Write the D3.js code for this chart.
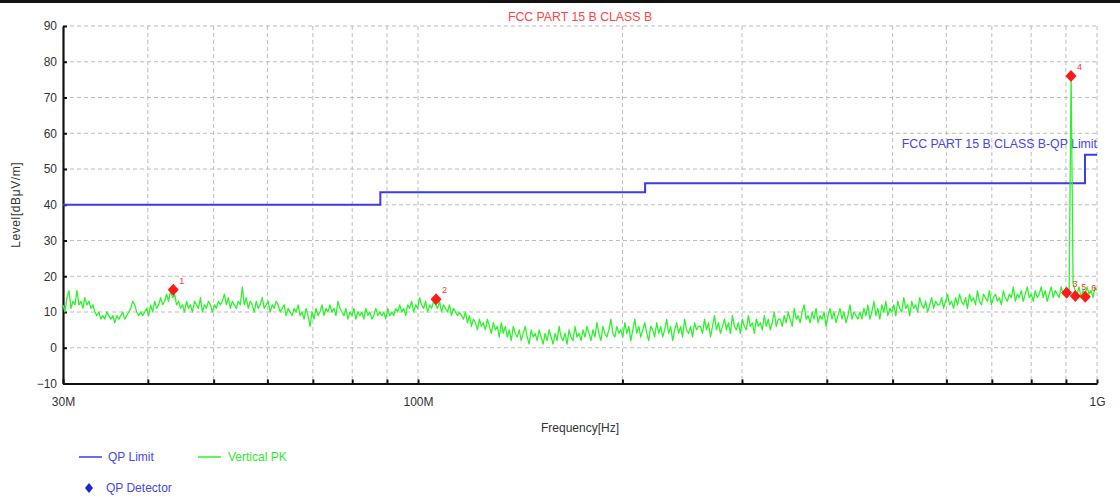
<!DOCTYPE html>
<html>
<head>
<meta charset="utf-8">
<script src="https://cdn.jsdelivr.net/npm/d3@7"></script>
<style>
  body { margin: 0; background: #fff; }
  svg text { font-family: "Liberation Sans", Arial, sans-serif; }
</style>
</head>
<body>
<div id="chart"></div>
<script>
// axis ticks / grid
const yTicks = [-10, 0, 10, 20, 30, 40, 50, 60, 70, 80, 90];
const gridFreqs = [40e6, 50e6, 60e6, 70e6, 80e6, 90e6, 100e6, 200e6, 300e6, 400e6, 500e6, 600e6, 700e6, 800e6, 900e6, 1e9];
const xLabels = {30e6: "30M", 100e6: "100M", 1e9: "1G"};

// QP limit steps (freq, level), drawn as step-after
const limitFreqs = [30e6, 88e6, 216e6, 960e6, 1e9];
const limitLevels = [40, 43.5, 46, 54, 54];

// Vertical PK trace, evenly spaced in log(freq) from 30M to 1G
const traceStart = 30e6, traceStop = 1e9;
const traceLevels = [
  12,10,14,16,11,13,12,16,12,13,11,14,12,13,11,12,10,9,10,8,9,8,10,9,8,9,7,9,8,9,10,8,9,10,11,13,12,10,9,10,
  9,10,11,9,12,10,13,11,12,14,12,13,15,13,16,14,15,12,13,11,12,10,13,11,12,10,13,12,11,14,10,12,11,13,12,10,12,11,13,12,
  13,15,12,14,11,13,12,11,13,12,17,12,14,11,13,12,10,13,11,12,14,11,12,13,10,12,11,13,12,10,11,12,9,11,10,9,11,10,12,9,
  10,8,11,9,6,10,8,11,9,10,12,9,11,10,12,10,11,9,13,11,10,9,11,8,10,9,11,8,10,9,10,8,11,9,10,8,9,11,9,10,
  9,10,8,11,9,10,9,11,10,12,10,11,9,12,11,13,10,12,11,14,12,11,13,10,12,11,13,12,11,13,10,12,11,10,12,9,11,10,9,10,
  9,8,10,7,9,6,8,7,5,8,6,7,5,8,6,4,7,5,6,3,7,4,6,3,5,2,6,4,3,5,2,4,6,3,1,5,3,4,2,5,
  3,1,4,2,5,3,1,4,2,6,3,2,4,1,5,3,2,6,3,4,2,5,3,6,4,2,5,3,7,4,2,6,4,3,5,8,4,3,6,4,
  5,3,7,4,6,2,5,8,4,6,3,5,7,4,2,6,5,3,7,4,6,3,5,8,4,6,2,5,7,4,6,3,8,5,4,6,3,7,5,6,
  6,4,8,5,7,3,6,9,5,7,4,6,8,5,7,4,9,6,5,7,4,8,6,5,9,6,7,4,8,6,7,5,9,6,8,5,7,10,6,8,
  8,6,9,7,10,8,6,11,8,9,7,10,12,8,9,7,10,8,11,7,9,8,10,6,9,11,8,10,7,9,11,8,10,7,9,12,8,10,9,8,
  10,8,11,9,12,8,10,13,9,11,8,12,10,13,9,11,10,12,9,13,11,10,14,11,12,9,13,11,12,10,14,12,11,13,10,12,14,11,13,12,
  12,14,11,13,15,12,13,11,14,12,15,13,12,14,11,15,13,14,12,16,13,12,15,14,13,16,12,14,15,13,14,12,16,14,13,15,14,17,13,15,
  14,16,13,15,17,14,15,13,16,14,15,17,14,16,13,15,17,14,16,15,14,17,15,16,14,16,76,18,16,15,17,14,16,15,17,15,16,14,17,16
];

// QP detector markers
const markerFreqs = [43.6e6, 106.3e6, 902e6, 915.6e6, 929e6, 961e6];
const markerLevels = [16.2, 13.6, 15.4, 76.0, 14.5, 14.3];
const markerLabels = ["1", "2", "3", "4", "5", "6"];

const width = 1120, height = 498;
const plotLeft = 63, plotRight = 1097, plotTop = 26, plotBottom = 383.5;
const blue = "#3b3bea", green = "#2ef22e", red = "#ff1a1a";

const svg = d3.select("#chart").append("svg")
    .attr("width", width)
    .attr("height", height);

// black frame line at the very top
svg.append("rect").attr("x", 0).attr("y", 0).attr("width", width).attr("height", 3).attr("fill", "#111");

const x = d3.scaleLog().domain([30e6, 1e9]).range([plotLeft, plotRight]);
const y = d3.scaleLinear().domain([-10, 90]).range([plotBottom, plotTop]);

// dashed grid
svg.append("g").selectAll("line")
    .data(yTicks.filter(v => v > -10))
    .enter().append("line")
    .attr("x1", plotLeft).attr("x2", plotRight)
    .attr("y1", d => y(d)).attr("y2", d => y(d))
    .attr("stroke", "#bdbdbd").attr("stroke-dasharray", "4,3");
svg.append("g").selectAll("line")
    .data(gridFreqs)
    .enter().append("line")
    .attr("x1", d => x(d)).attr("x2", d => x(d))
    .attr("y1", plotTop).attr("y2", plotBottom)
    .attr("stroke", "#bdbdbd").attr("stroke-dasharray", "4,3");

// axes
const yAxis = svg.append("g")
    .attr("transform", `translate(${plotLeft},0)`)
    .call(d3.axisLeft(y).tickValues(yTicks).tickSizeInner(-4).tickSizeOuter(0).tickPadding(6));
const xAxis = svg.append("g")
    .attr("transform", `translate(0,${plotBottom})`)
    .call(d3.axisBottom(x).tickValues([30e6].concat(gridFreqs)).tickSizeInner(-4).tickSizeOuter(0).tickPadding(14)
        .tickFormat(d => xLabels[d] || ""));
[yAxis, xAxis].forEach(a => {
    a.select(".domain").attr("stroke", "#111").attr("stroke-width", 2.2);
    a.selectAll(".tick line").attr("stroke", "#111").attr("stroke-width", 2);
    a.selectAll("text").style("font-size", "12px").attr("fill", "#333")
        .style("font-family", "'Liberation Sans', Arial, sans-serif");
});

// axis titles
svg.append("text")
    .attr("x", (plotLeft + plotRight) / 2).attr("y", 432)
    .attr("text-anchor", "middle")
    .style("font-size", "12px").attr("fill", "#333")
    .text("Frequency[Hz]");
svg.append("text")
    .attr("transform", `translate(20,${(plotTop + plotBottom) / 2}) rotate(-90)`)
    .attr("text-anchor", "middle")
    .style("font-size", "12px").attr("fill", "#333")
    .style("letter-spacing", "0.6px")
    .text("Level[dBμV/m]");

// title
svg.append("text")
    .attr("x", (plotLeft + plotRight) / 2).attr("y", 21)
    .attr("text-anchor", "middle")
    .style("font-size", "12.3px").attr("fill", "#ff4545")
    .text("FCC PART 15 B CLASS B");

// limit line
const limitData = limitFreqs.map((f, i) => ({f: f, v: limitLevels[i]}));
svg.append("path")
    .datum(limitData)
    .attr("fill", "none")
    .attr("stroke", blue)
    .attr("stroke-width", 2)
    .attr("d", d3.line().x(d => x(d.f)).y(d => y(d.v)).curve(d3.curveStepAfter));
svg.append("text")
    .attr("x", plotRight).attr("y", 148)
    .attr("text-anchor", "end")
    .style("font-size", "12.3px").attr("fill", "#4646ee")
    .text("FCC PART 15 B CLASS B-QP Limit");

// PK trace
const n = traceLevels.length;
const traceFreq = i => traceStart * Math.pow(traceStop / traceStart, i / (n - 1));
svg.append("path")
    .datum(traceLevels)
    .attr("fill", "none")
    .attr("stroke", green)
    .attr("stroke-width", 1.3)
    .attr("stroke-linejoin", "round")
    .attr("d", d3.line().x((d, i) => x(traceFreq(i))).y(d => y(d)));

// diamond markers
function diamond(cx, cy, w, h) {
    return `M${cx},${cy - h}L${cx + w},${cy}L${cx},${cy + h}L${cx - w},${cy}Z`;
}
const markers = markerFreqs.map((f, i) => ({f: f, v: markerLevels[i], label: markerLabels[i]}));
svg.append("g").selectAll("path")
    .data(markers)
    .enter().append("path")
    .attr("d", d => diamond(x(d.f), y(d.v), 5.5, 6))
    .attr("fill", red);
svg.append("g").selectAll("text")
    .data(markers)
    .enter().append("text")
    .attr("x", d => x(d.f) + 6)
    .attr("y", d => y(d.v) - 6)
    .style("font-size", "9px")
    .attr("fill", "#ff3030")
    .text(d => d.label);

// legend
const legend = svg.append("g").style("font-size", "12px");
legend.append("line").attr("x1", 79).attr("x2", 102).attr("y1", 457).attr("y2", 457).attr("stroke", blue).attr("stroke-width", 1.5);
legend.append("text").attr("x", 108).attr("y", 461).attr("fill", "#4646ee").text("QP Limit");
legend.append("line").attr("x1", 198).attr("x2", 221).attr("y1", 457).attr("y2", 457).attr("stroke", green).attr("stroke-width", 1.5);
legend.append("text").attr("x", 228).attr("y", 461).attr("fill", "#2ee82e").text("Vertical PK");
legend.append("path").attr("d", diamond(89, 488, 4, 5)).attr("fill", "#2020d8");
legend.append("text").attr("x", 106).attr("y", 492).attr("fill", "#4646ee").text("QP Detector");
</script>
</body>
</html>
